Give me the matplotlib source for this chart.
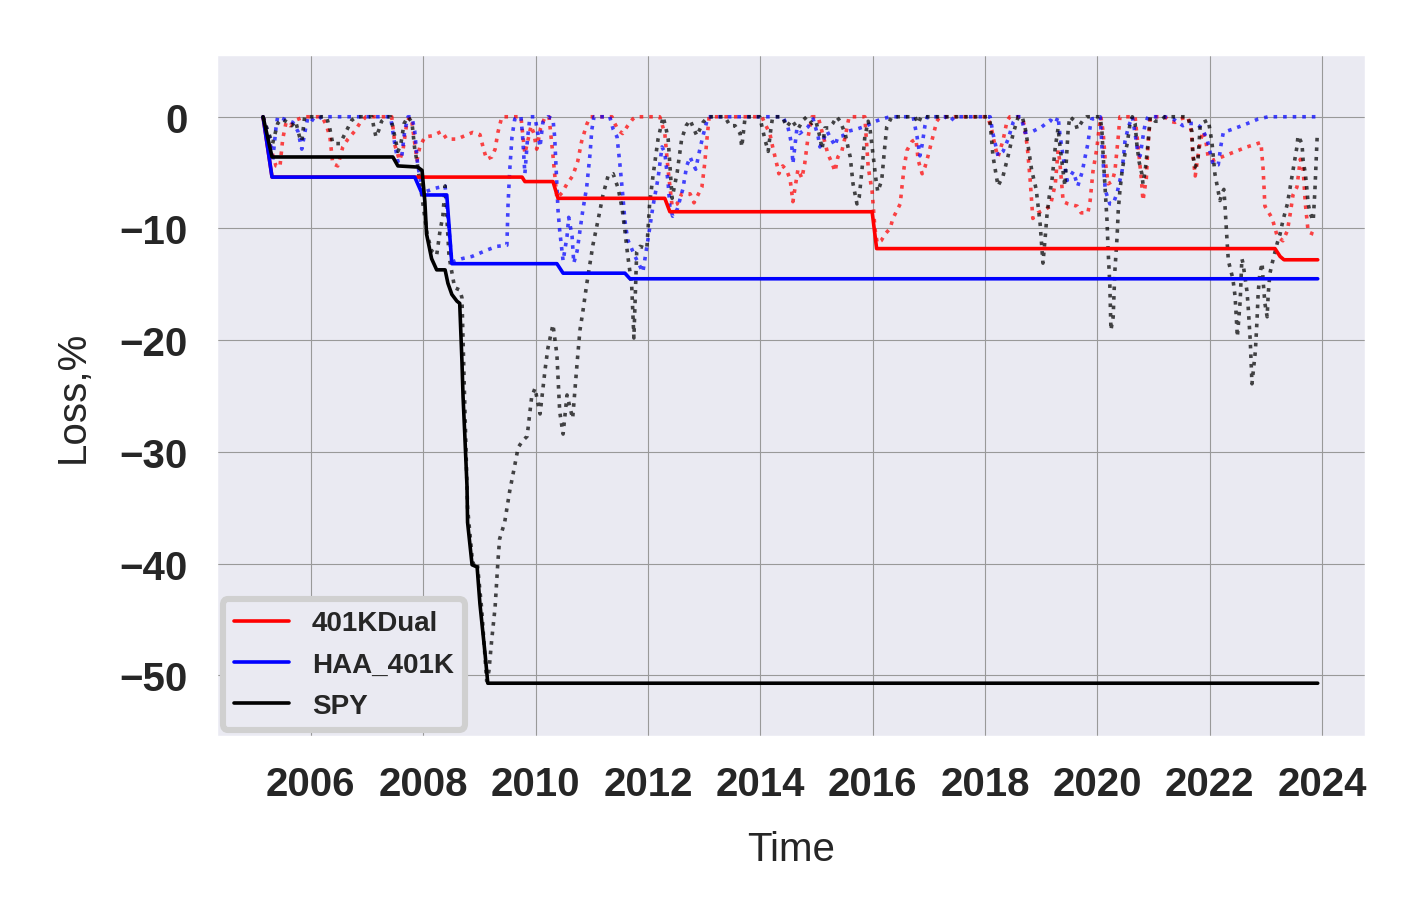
import matplotlib
matplotlib.use("Agg")
import matplotlib.pyplot as plt
import seaborn as sns

# --- data (decimal year, loss in %) ---

# running max drawdown (solid lines)
dual_max_t = [2005.15, 2005.31, 2009.76, 2009.81, 2010.31, 2010.40, 2012.30, 2012.39,
              2015.99, 2016.07, 2023.16, 2023.25, 2023.32, 2023.92]
dual_max_v = [0, -5.4, -5.4, -5.8, -5.8, -7.3, -7.3, -8.5, -8.5, -11.8, -11.8, -12.5, -12.8, -12.8]

haa_max_t = [2005.15, 2005.31, 2007.85, 2007.99, 2008.42, 2008.51, 2010.38, 2010.49,
             2011.59, 2011.68, 2023.92]
haa_max_v = [0, -5.4, -5.4, -7.0, -7.0, -13.15, -13.15, -14.0, -14.0, -14.5, -14.5]

spy_max_t = [2005.15, 2005.31, 2007.46, 2007.55, 2007.90, 2007.98, 2008.03, 2008.06, 2008.15,
             2008.24, 2008.39, 2008.44, 2008.51, 2008.60, 2008.65, 2008.69, 2008.71, 2008.74,
             2008.78, 2008.79, 2008.87, 2008.96, 2009.01, 2009.10, 2009.15, 2023.92]
spy_max_v = [0, -3.6, -3.6, -4.4, -4.5, -4.8, -7.6, -10.5, -12.7, -13.7, -13.7, -14.9, -15.9,
             -16.5, -16.7, -21.9, -25.1, -28.4, -33.1, -36.3, -40.1, -40.3, -43.6, -48.0,
             -50.7, -50.7]

# drawdown (dotted lines)
dual_dd_t = [2005.15, 2005.27, 2005.38, 2005.45, 2005.50, 2005.56, 2005.63, 2005.73, 2005.89,
             2006.20, 2006.28, 2006.34, 2006.39, 2006.48, 2006.57, 2006.66, 2006.78, 2006.87,
             2006.98, 2007.44, 2007.50, 2007.58, 2007.64, 2007.71, 2007.76, 2007.80, 2007.89,
             2007.94, 2008.03, 2008.17, 2008.33, 2008.42, 2008.60, 2008.74, 2008.88, 2009.01,
             2009.08, 2009.13, 2009.22, 2009.28, 2009.33, 2009.40, 2009.74, 2009.77, 2009.81,
             2009.86, 2009.92, 2009.97, 2010.02, 2010.09, 2010.17, 2010.24, 2010.31, 2010.38,
             2010.47, 2010.56, 2010.66, 2010.75, 2010.82, 2010.91, 2010.97, 2011.36, 2011.41,
             2011.47, 2011.55, 2011.64, 2011.73, 2011.79, 2012.21, 2012.30, 2012.36, 2012.43,
             2012.52, 2012.60, 2012.75, 2012.82, 2012.89, 2012.96, 2013.01, 2013.05, 2013.09,
             2014.03, 2014.08, 2014.17, 2014.22, 2014.30, 2014.33, 2014.40, 2014.47, 2014.53,
             2014.58, 2014.62, 2014.67, 2014.74, 2014.79, 2014.85, 2014.92, 2015.03, 2015.08,
             2015.15, 2015.20, 2015.28, 2015.33, 2015.38, 2015.45, 2015.51, 2015.58, 2015.86,
             2015.92, 2015.99, 2016.04, 2016.08, 2016.15, 2016.22, 2016.31, 2016.36, 2016.43,
             2016.49, 2016.52, 2016.56, 2016.61, 2016.70, 2016.77, 2016.81, 2016.88, 2016.93,
             2016.98, 2017.06, 2017.14, 2017.20, 2018.05, 2018.12, 2018.18, 2018.23, 2018.32,
             2018.39, 2018.44, 2018.64, 2018.69, 2018.75, 2018.80, 2018.85, 2018.94, 2019.07,
             2019.16, 2019.25, 2019.30, 2019.33, 2019.39, 2019.48, 2019.64, 2019.71, 2019.83,
             2019.87, 2019.92, 2019.99, 2020.03, 2020.06, 2020.10, 2020.14, 2020.19, 2020.26,
             2020.31, 2020.37, 2020.40, 2020.67, 2020.72, 2020.78, 2020.81, 2020.87, 2020.90,
             2020.94, 2021.20, 2021.29, 2021.38, 2021.47, 2021.61, 2021.67, 2021.70, 2021.74,
             2021.79, 2021.83, 2021.88, 2021.93, 2021.97, 2022.06, 2022.36, 2022.66, 2022.91,
             2022.95, 2022.98, 2023.11, 2023.20, 2023.30, 2023.38, 2023.43, 2023.48, 2023.55,
             2023.61, 2023.66, 2023.70, 2023.75, 2023.84, 2023.91]
dual_dd_v = [0, -2.5, -4.4, -4.5, -2.0, -0.5, -0.8, -0.3, 0,
             0, -0.8, -1.8, -4.2, -4.4, -2.7, -2.0, -1.3, -0.6,
             0, 0, -2.6, -3.9, -3.0, -0.5, 0, -0.5, -3.9,
             -2.7, -1.8, -1.7, -1.3, -2.0, -2.0, -1.7, -1.4, -1.6,
             -3.0, -3.8, -3.6, -2.9, -1.4, 0, 0, -1.5, -3.3,
             -2.2, -0.8, -1.5, -2.9, -1.0, 0, 0, -3.5, -7.3,
             -6.8, -6.0, -5.3, -4.0, -2.2, -0.7, 0, 0, -0.6,
             -1.2, -1.5, -0.8, -0.2, 0, 0, -1.5, -4.8, -8.0,
             -7.8, -6.9, -6.9, -7.7, -7.0, -6.3, -4.2, -2.0, 0,
             0, -0.6, -1.5, -2.7, -4.4, -5.1, -4.4, -4.8, -5.6,
             -7.6, -6.3, -4.7, -5.5, -4.2, -1.8, 0, 0, -1.0,
             -2.3, -3.3, -4.2, -4.9, -3.6, -3.1, -1.8, 0, 0,
             -4.5, -6.7, -10.0, -11.3, -11.1, -10.5, -10.0, -9.1, -8.4,
             -7.8, -6.3, -4.5, -3.0, -2.2, -2.0, -3.9, -5.1, -4.5,
             -3.6, -2.0, -0.4, 0, 0, -1.2, -2.7, -3.6, -2.1,
             -0.4, 0, 0, -0.6, -2.6, -5.5, -9.1, -8.6, -8.3,
             -8.0, -6.0, -3.0, -4.0, -7.6, -7.8, -8.0, -8.6, -8.6,
             -7.5, -4.9, -2.8, -1.0, 0, -1.3, -4.0, -6.0, -5.8,
             -4.9, -1.8, 0, 0, -2.5, -5.5, -7.5, -5.5, -2.5,
             0, 0, -0.4, -0.5, -0.2, 0, -1.3, -3.5, -5.3,
             -3.5, -2.2, -1.3, -2.2, -3.6, -3.9, -3.3, -2.7, -2.3,
             -4.8, -8.0, -9.1, -10.7, -11.1, -10.2, -8.7, -7.0, -6.3,
             -3.8, -4.7, -7.8, -10.3, -10.5, -10.6]

haa_dd_t = [2005.15, 2005.27, 2005.32, 2005.38, 2005.41, 2005.63, 2005.68, 2005.77, 2005.84,
            2005.89, 2005.95, 2006.07, 2006.20, 2007.42, 2007.48, 2007.55, 2007.62, 2007.67,
            2007.73, 2007.80, 2007.85, 2007.90, 2007.99, 2008.21, 2008.39, 2008.51, 2008.69,
            2008.87, 2009.01, 2009.15, 2009.31, 2009.49, 2009.51, 2009.54, 2009.58, 2009.63,
            2009.69, 2009.74, 2009.77, 2009.81, 2009.86, 2009.90, 2009.99, 2010.04, 2010.08,
            2010.13, 2010.22, 2010.31, 2010.34, 2010.40, 2010.43, 2010.49, 2010.56, 2010.59,
            2010.65, 2010.68, 2010.74, 2010.79, 2010.84, 2010.91, 2010.97, 2011.00, 2011.04,
            2011.32, 2011.38, 2011.45, 2011.50, 2011.55, 2011.59, 2011.64, 2011.77, 2011.91,
            2012.00, 2012.09, 2012.18, 2012.25, 2012.30, 2012.36, 2012.39, 2012.44, 2012.52,
            2012.62, 2012.69, 2012.75, 2012.80, 2012.85, 2012.92, 2012.98, 2013.07, 2014.40,
            2014.49, 2014.53, 2014.56, 2014.58, 2014.65, 2014.70, 2014.85, 2014.94, 2015.03,
            2015.06, 2015.19, 2015.24, 2015.33, 2015.38, 2015.47, 2015.56, 2015.72, 2015.90,
            2016.00, 2016.16, 2016.31, 2016.72, 2016.79, 2016.84, 2016.88, 2016.93, 2016.97,
            2017.29, 2017.38, 2017.46, 2018.09, 2018.14, 2018.23, 2018.32, 2018.41, 2018.50,
            2018.57, 2018.64, 2018.71, 2018.85, 2019.01, 2019.16, 2019.25, 2019.30, 2019.33,
            2019.39, 2019.46, 2019.51, 2019.57, 2019.65, 2019.73, 2019.78, 2019.83, 2019.87,
            2019.90, 2020.05, 2020.08, 2020.14, 2020.22, 2020.28, 2020.35, 2020.44, 2020.49,
            2020.55, 2020.62, 2020.67, 2020.72, 2020.76, 2020.81, 2020.85, 2020.90, 2021.20,
            2021.35, 2021.52, 2021.61, 2021.74, 2021.86, 2021.95, 2022.06, 2022.15, 2022.20,
            2022.24, 2022.41, 2022.57, 2022.72, 2022.86, 2023.04, 2023.91]
haa_dd_v = [0, -2.0, -4.0, -1.0, 0, -0.4, -0.5, -1.3, -2.9,
            -1.5, 0, -0.4, 0, 0, -2.0, -4.0, -3.5, -1.3,
            0, 0, -1.3, -4.2, -6.8, -6.4, -6.2, -13.0, -12.7,
            -12.5, -12.2, -11.9, -11.6, -11.5, -7.9, -4.8, -1.8, -0.2,
            0, 0, -1.8, -5.1, -1.8, 0, 0, -1.5, -2.7,
            -0.5, 0, -0.2, -1.8, -8.4, -10.2, -12.9, -10.7, -9.0,
            -10.7, -13.1, -12.0, -10.2, -8.4, -6.3, -3.3, -1.2, 0,
            0, -1.1, -1.8, -4.2, -6.9, -9.3, -11.0, -12.5, -13.9,
            -11.0, -8.0, -5.5, -2.7, -3.2, -6.0, -8.0, -8.9, -8.3,
            -6.5, -4.4, -3.6, -4.2, -4.7, -3.0, -1.7, 0, 0,
            -0.9, -1.8, -2.6, -4.2, -1.1, -1.5, -0.9, -0.2, -1.8,
            -2.7, -1.3, -1.8, -2.6, -1.8, -1.7, -1.3, -1.1, -0.8,
            -0.5, -0.2, 0, 0, -1.8, -3.5, -2.5, -0.8, 0,
            0, -0.4, 0, 0, -1.5, -3.5, -3.1, -2.0, -0.5,
            0, 0, -1.4, -1.3, -0.9, -0.3, -0.6, 0, -1.5,
            -3.6, -5.7, -5.4, -4.9, -6.2, -4.9, -3.6, -2.4, -0.9,
            -0.2, 0, -2.7, -6.6, -7.8, -7.8, -6.8, -4.8, -2.2,
            -0.9, 0, -1.5, -3.3, -3.5, -1.8, -0.6, 0, 0,
            -0.2, -0.8, -0.6, -0.6, -1.0, -2.0, -4.3, -4.3, -2.5,
            -1.4, -1.1, -0.8, -0.5, -0.2, 0, 0]

spy_dd_t = [2005.15, 2005.23, 2005.32, 2005.41, 2005.48, 2005.59, 2005.66, 2005.73, 2005.80,
            2005.84, 2005.89, 2006.28, 2006.34, 2006.39, 2006.52, 2006.64, 2006.73, 2006.82,
            2007.09, 2007.12, 2007.16, 2007.21, 2007.26, 2007.35, 2007.42, 2007.48, 2007.55,
            2007.60, 2007.66, 2007.73, 2007.80, 2007.85, 2007.89, 2007.96, 2008.07, 2008.15,
            2008.24, 2008.30, 2008.35, 2008.39, 2008.46, 2008.56, 2008.65, 2008.69, 2008.72,
            2008.79, 2008.88, 2008.96, 2009.04, 2009.13, 2009.17, 2009.22, 2009.28, 2009.33,
            2009.36, 2009.45, 2009.54, 2009.63, 2009.69, 2009.77, 2009.85, 2009.93, 2009.99,
            2010.08, 2010.17, 2010.22, 2010.31, 2010.38, 2010.43, 2010.49, 2010.56, 2010.66,
            2010.74, 2010.79, 2010.84, 2010.91, 2010.97, 2011.02, 2011.11, 2011.20, 2011.29,
            2011.38, 2011.47, 2011.54, 2011.59, 2011.64, 2011.71, 2011.75, 2011.80, 2011.86,
            2011.98, 2012.03, 2012.09, 2012.12, 2012.18, 2012.27, 2012.32, 2012.36, 2012.43,
            2012.52, 2012.60, 2012.68, 2012.75, 2012.87, 2012.98, 2013.07, 2013.37, 2013.46,
            2013.55, 2013.64, 2013.67, 2013.73, 2013.99, 2014.08, 2014.14, 2014.19, 2014.22,
            2014.39, 2014.47, 2014.56, 2014.67, 2014.76, 2014.83, 2014.92, 2014.99, 2015.06,
            2015.10, 2015.15, 2015.22, 2015.29, 2015.36, 2015.42, 2015.51, 2015.56, 2015.60,
            2015.65, 2015.72, 2015.76, 2015.81, 2015.86, 2015.92, 2015.95, 2016.00, 2016.06,
            2016.09, 2016.16, 2016.22, 2016.25, 2016.34, 2016.75, 2016.81, 2016.86, 2018.05,
            2018.09, 2018.14, 2018.23, 2018.32, 2018.41, 2018.50, 2018.59, 2018.66, 2018.71,
            2018.76, 2018.83, 2018.91, 2018.94, 2018.98, 2019.03, 2019.07, 2019.10, 2019.14,
            2019.19, 2019.25, 2019.30, 2019.33, 2019.39, 2019.42, 2019.48, 2019.51, 2019.60,
            2019.64, 2019.73, 2019.81, 2020.05, 2020.08, 2020.10, 2020.14, 2020.17, 2020.19,
            2020.22, 2020.24, 2020.28, 2020.31, 2020.35, 2020.37, 2020.40, 2020.44, 2020.49,
            2020.53, 2020.58, 2020.62, 2020.67, 2020.70, 2020.74, 2020.79, 2020.81, 2020.85,
            2020.90, 2020.94, 2021.03, 2021.11, 2021.20, 2021.61, 2021.68, 2021.70, 2021.74,
            2021.79, 2021.83, 2021.88, 2021.97, 2022.00, 2022.04, 2022.09, 2022.15, 2022.18,
            2022.22, 2022.25, 2022.27, 2022.31, 2022.33, 2022.41, 2022.45, 2022.49, 2022.54,
            2022.57, 2022.59, 2022.66, 2022.68, 2022.72, 2022.75, 2022.81, 2022.84, 2022.86,
            2022.89, 2022.93, 2022.95, 2022.98, 2023.02, 2023.04, 2023.07, 2023.11, 2023.20,
            2023.25, 2023.30, 2023.38, 2023.43, 2023.48, 2023.55, 2023.57, 2023.64, 2023.66,
            2023.70, 2023.73, 2023.75, 2023.79, 2023.84, 2023.87, 2023.89, 2023.91]
spy_dd_v = [0, -1.2, -2.4, -0.6, -0.2, -0.5, -0.8, -0.4, -1.8,
            -2.2, 0, 0, -1.1, -2.4, -2.4, -1.2, -0.3, 0,
            0, -0.9, -1.8, -1.2, -0.4, 0, 0, -1.4, -3.1,
            -2.5, -0.6, 0, -0.5, -2.9, -4.0, -6.5, -10.5, -12.0,
            -12.4, -10.2, -8.9, -6.2, -12.5, -15.3, -15.5, -16.2, -22.0,
            -35.0, -40.0, -39.8, -44.0, -50.5, -49.6, -46.8, -43.9, -39.8,
            -37.8, -36.3, -33.5, -31.2, -29.6, -29.0, -28.6, -25.1, -24.3,
            -26.6, -22.6, -20.7, -18.6, -21.3, -26.4, -28.4, -24.9, -27.0,
            -22.0, -19.1, -17.5, -15.0, -13.1, -11.5, -9.3, -7.0, -5.3,
            -5.1, -6.4, -8.2, -10.2, -12.4, -15.0, -19.8, -12.1, -11.6,
            -11.8, -7.8, -5.3, -4.2, -2.0, 0, -1.0, -2.0, -7.3,
            -5.0, -2.0, -0.8, -0.3, -1.7, -0.5, 0, 0, -0.8,
            -0.8, -1.5, -2.7, 0, 0, -2.0, -3.1, -1.0, 0,
            0, -0.9, -0.3, -1.1, -0.3, 0, -0.6, -0.4, -1.8,
            -2.9, -1.0, -1.0, -0.6, 0, -0.4, -1.5, -2.7, -3.6,
            -6.0, -7.8, -7.2, -4.7, -1.8, -0.4, -1.0, -3.1, -5.7,
            -6.7, -5.7, -2.4, -0.9, 0, 0, -0.6, 0, 0,
            -0.5, -3.5, -6.2, -5.3, -3.5, -1.5, 0, 0, -0.9,
            -2.4, -4.8, -6.5, -7.8, -9.6, -13.1, -10.8, -8.9, -7.2,
            -5.7, -2.7, -1.0, -2.5, -5.0, -6.2, -1.0, 0, -0.4,
            -1.1, -0.4, 0, 0, -1.3, -3.3, -6.8, -9.3, -12.0,
            -15.0, -19.1, -17.9, -13.8, -10.7, -8.4, -6.6, -4.8, -3.3,
            -2.4, -0.6, 0, -0.6, -2.4, -4.0, -5.1, -6.0, -4.8,
            -2.4, 0, -0.4, -0.4, 0, 0, -1.3, -3.5, -4.5,
            -3.8, -0.7, -0.5, -0.3, -1.1, -2.4, -5.1, -6.7, -7.5,
            -6.8, -6.5, -8.0, -11.4, -12.9, -14.5, -16.1, -19.7, -16.5,
            -12.7, -13.1, -15.6, -16.8, -20.1, -23.9, -21.0, -18.2, -15.8,
            -14.0, -13.1, -14.8, -16.7, -17.9, -15.8, -14.0, -13.1, -11.3,
            -10.5, -9.3, -7.8, -6.3, -4.8, -2.7, -1.7, -2.4, -3.9,
            -5.1, -6.6, -7.8, -8.7, -9.3, -6.6, -4.2, -1.8]

series_names = ["401KDual", "HAA_401K", "SPY"]
series_colors = ["red", "blue", "black"]

x_ticks = [2006, 2008, 2010, 2012, 2014, 2016, 2018, 2020, 2022, 2024]
y_ticks = [0, -10, -20, -30, -40, -50]

# --- style ---
sns.set_theme(style="darkgrid")
plt.rcParams["font.family"] = ["Liberation Sans", "DejaVu Sans"]
plt.rcParams["axes.unicode_minus"] = True

fig = plt.figure(figsize=(7.1, 4.6), dpi=200)
ax = fig.add_axes([0.152, 0.198, 0.810, 0.742])

dd_sets = [(dual_dd_t, dual_dd_v), (haa_dd_t, haa_dd_v), (spy_dd_t, spy_dd_v)]
max_sets = [(dual_max_t, dual_max_v), (haa_max_t, haa_max_v), (spy_max_t, spy_max_v)]

# dotted drawdowns first, solid max drawdown on top
for (t, v), color in zip(dd_sets, series_colors):
    ax.plot(t, v, linestyle=":", linewidth=1.3, color=color, alpha=0.72)
for (t, v), color, name in zip(max_sets, series_colors, series_names):
    ax.plot(t, v, linestyle="-", linewidth=1.3, color=color, label=name)

ax.set_xlim(2004.31, 2024.78)
ax.set_ylim(-55.5, 5.6)
ax.set_xticks(x_ticks)
ax.set_yticks(y_ticks)
ax.set_xticklabels([str(t) for t in x_ticks], fontsize=14.5, fontweight="bold")
ax.set_yticklabels([f"{t:d}".replace("-", "\u2212") for t in y_ticks],
                   fontsize=14.5, fontweight="bold")
ax.tick_params(axis="both", pad=10, length=0)

ax.grid(True, color="0.6", linewidth=0.4)
ax.set_xlabel("Time", fontsize=14.5, labelpad=10)
ax.set_ylabel("Loss,%", fontsize=14.5, labelpad=10)

leg = ax.legend(loc="lower left", prop={"weight": "bold", "size": 10},
                borderaxespad=0.25, labelspacing=0.55, frameon=True, fancybox=True)
leg.get_frame().set_edgecolor("#d0d0d0")
leg.get_frame().set_linewidth(2.2)
leg.get_frame().set_facecolor("#EAEAF2")
leg.get_frame().set_alpha(1.0)

fig.savefig("out.png", dpi=200)
